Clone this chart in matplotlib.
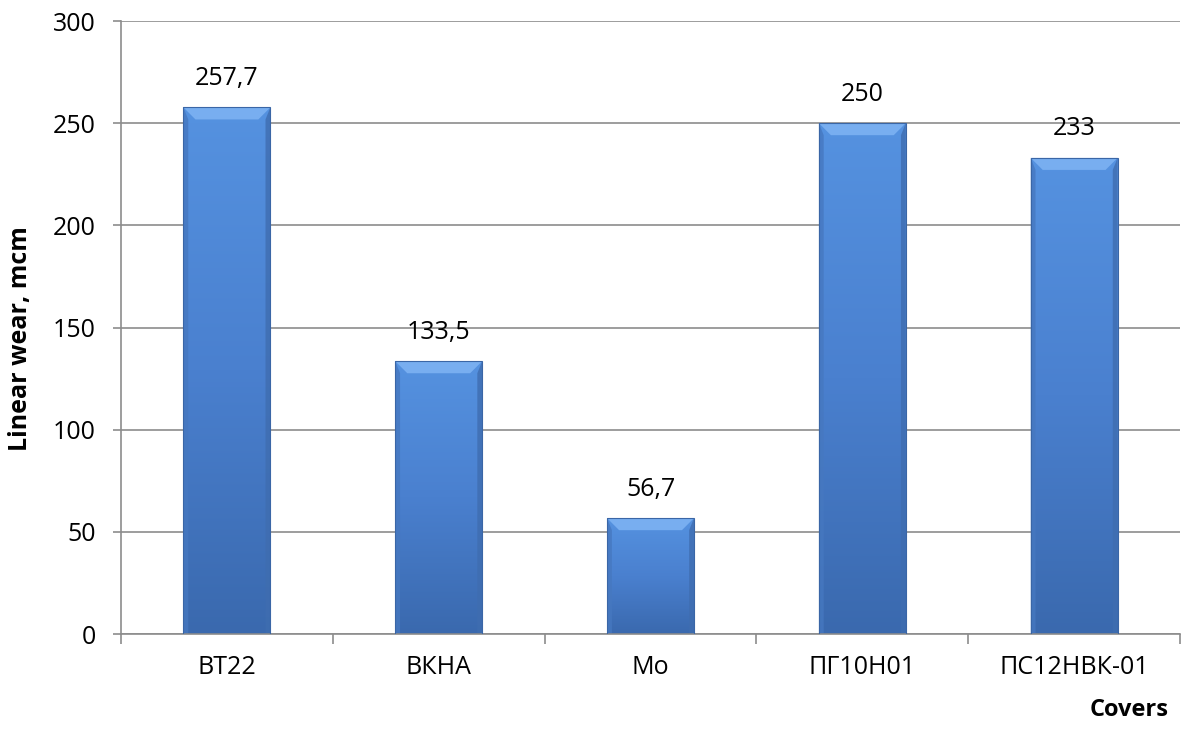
import matplotlib.pyplot as plt
import numpy as np
from matplotlib.colors import LinearSegmentedColormap
from matplotlib.patches import Polygon

plt.rcParams['font.family'] = ['Open Sans', 'DejaVu Sans']

covers = ['ВТ22', 'ВКНА', 'Mo', 'ПГ10Н01', 'ПС12НВК-01']
wear = [257.7, 133.5, 56.7, 250, 233]

fig = plt.figure(figsize=(11.99, 7.40), dpi=100)
ax = fig.add_axes([0.1009, 0.1432, 0.8833, 0.8284])

grid_c = '#8c8c8c'
x = np.arange(len(covers))
width = 0.41
ax.set_xlim(-0.5, len(covers) - 0.5)
ax.set_ylim(0, 300)
ax.set_yticks(np.arange(0, 301, 50))
ax.yaxis.grid(True, color=grid_c, lw=1.2)
ax.set_axisbelow(True)

# vertical gradient for bar body, lighter on top
body = LinearSegmentedColormap.from_list('body', ['#3a69ae', '#4a80cf', '#5592e0'])
grad = np.linspace(0, 1, 256).reshape(-1, 1)

bars = ax.bar(x, wear, width, color='none', edgecolor='#3a66a6', lw=0.8, zorder=3)
px_y = 300 / 613.0  # data units per pixel (vertical)
px_x = 5 / 1059.0
for b, v in zip(bars, wear):
    x0, x1 = b.get_x(), b.get_x() + b.get_width()
    im = ax.imshow(grad, cmap=body, aspect='auto', origin='lower',
                   extent=[x0, x1, 0, v], zorder=2)
    im.set_clip_path(b)
    # bevel edges
    by = 12 * px_y
    bx = 12 * px_x
    top = Polygon([[x0, v], [x1, v], [x1 - bx, v - by], [x0 + bx, v - by]],
                  closed=True, fc='#78aef0', ec='none', zorder=2.5)
    left = Polygon([[x0, v], [x0 + bx * 0.4, v - by], [x0 + bx * 0.4, 0], [x0, 0]],
                   closed=True, fc='#4678c0', ec='none', zorder=2.5, alpha=0.8)
    right = Polygon([[x1, v], [x1 - bx * 0.4, v - by], [x1 - bx * 0.4, 0], [x1, 0]],
                    closed=True, fc='#3f6db0', ec='none', zorder=2.5, alpha=0.8)
    ax.add_patch(top)
    ax.add_patch(left)
    ax.add_patch(right)
    label = f'{v:g}'.replace('.', ',')
    ax.annotate(label, (b.get_x() + b.get_width() / 2, v), xytext=(0, 21),
                textcoords='offset points', ha='center', va='center',
                fontsize=18, color='black')

for s in ['top', 'right']:
    ax.spines[s].set_visible(False)
ax.spines['left'].set_color(grid_c)
ax.spines['bottom'].set_color(grid_c)
ax.spines['left'].set_linewidth(1.2)
ax.spines['bottom'].set_linewidth(1.2)

ax.set_xticks(x)
ax.set_xticklabels(covers, fontsize=18)
ax.set_xticks(np.arange(-0.5, len(covers) - 0.4, 1), minor=True)
ax.tick_params(axis='x', which='major', length=0, pad=15)
ax.tick_params(axis='x', which='minor', length=7, color=grid_c, width=1.2)
ax.tick_params(axis='y', length=6, color=grid_c, width=1.2, labelsize=18, pad=12)

fig.text(0.0167, 0.543, 'Linear wear, mcm', rotation=90, ha='center', va='center',
         fontsize=18, fontweight='bold')
fig.text(0.942, 0.04, 'Covers', ha='center', va='center', fontsize=17, fontweight='bold')

fig.savefig('out.png', dpi=100)
